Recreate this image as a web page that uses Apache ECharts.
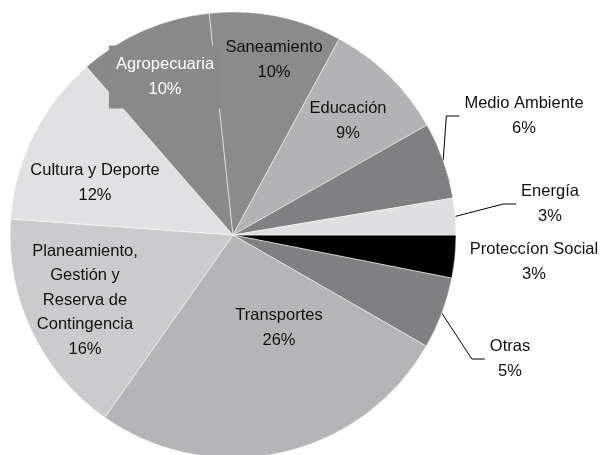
<!DOCTYPE html>
<html><head><meta charset="utf-8">
<script src="https://cdn.jsdelivr.net/npm/echarts@6/dist/echarts.min.js"></script>
<style>html,body{margin:0;padding:0;background:#fff}#c{width:603px;height:455px}</style>
</head><body><div id="c"></div>
<script>
// Data (clockwise from 3 o'clock)
const categories = ['Proteccíon Social', 'Otras', 'Transportes', 'Planeamiento,\nGestión y\nReserva de\nContingencia', 'Cultura y Deporte', 'Agropecuaria', 'Saneamiento', 'Educación', 'Medio Ambiente', 'Energía'];
const values = [3.1, 5.2, 26.45, 16.4, 12.45, 9.7, 9.6, 8.9, 5.55, 2.65];

// Styles
const colors = ['#000000', '#808082', '#b4b5b7', '#cbcbcd', '#e1e1e3', '#89898a', '#8b8b8c', '#b3b3b5', '#808082', '#dfdfe1'];
// Label layout (text block centres) and which labels use leader lines
const labelCenters = [[534, 262], [510, 359], [279, 328], [85, 300], [95, 183], [165, 77], [274, 60], [348, 121], [524, 116], [550, 204]];
const leaderIdx = [1, 8, 9];
const CX = 233, CY = 235, R = 223;

const total = values.reduce((a, b) => a + b, 0);
function midPoint(i) {
  let cum = 0;
  for (let k = 0; k < i; k++) cum += values[k];
  const a = (cum + values[i] / 2) / total * 2 * Math.PI;
  return [CX + R * Math.cos(a), CY + R * Math.sin(a)];
}

const data = categories.map((name, i) => {
  const item = {
    name: name,
    value: values[i],
    itemStyle: { color: colors[i] },
    labelLine: { show: leaderIdx.indexOf(i) >= 0 }
  };
  if (name === 'Agropecuaria') {
    item.label = { color: '#ffffff', backgroundColor: colors[i], padding: [7, 7] };
  }
  return item;
});

const chart = echarts.init(document.getElementById('c'), null, { renderer: 'canvas' });
chart.setOption({
  backgroundColor: '#ffffff',
  animation: false,
  series: [{
    type: 'pie',
    center: [CX, CY],
    radius: [0, R],
    startAngle: 0,
    clockwise: true,
    avoidLabelOverlap: false,
    percentPrecision: 0,
    itemStyle: { borderColor: '#ffffff', borderWidth: 0.5 },
    emphasis: { disabled: true },
    label: {
      show: true,
      position: 'outside',
      formatter: '{b}\n{d}%',
      fontFamily: 'Liberation Sans, Arial, sans-serif',
      fontSize: 16.5,
      lineHeight: 24.5,
      color: '#111111',
      align: 'center'
    },
    labelLine: {
      show: true,
      smooth: false,
      lineStyle: { color: '#000000', width: 1 }
    },
    labelLayout: function (p) {
      const i = p.dataIndex;
      const c = labelCenters[i];
      const res = { x: c[0], y: c[1], align: 'center', verticalAlign: 'middle' };
      if (leaderIdx.indexOf(i) >= 0) {
        const start = (p.labelLinePoints && p.labelLinePoints[0]) ? p.labelLinePoints[0] : midPoint(i);
        const left = c[0] - p.labelRect.width / 2;
        const endX = left - 5;
        res.labelLinePoints = [[start[0], start[1]], [endX - 13, c[1]], [endX, c[1]]];
      }
      return res;
    },
    data: data
  }]
});
</script>
</body></html>
